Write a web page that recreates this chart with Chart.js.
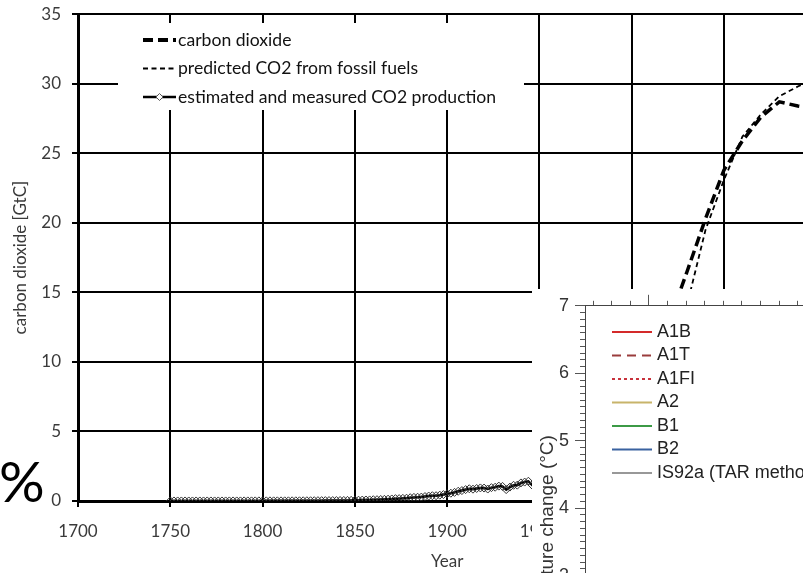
<!DOCTYPE html>
<html><head><meta charset="utf-8">
<script src="https://cdn.jsdelivr.net/npm/chart.js@4.4.1/dist/chart.umd.min.js"></script>
<style>
html,body{margin:0;padding:0;background:#fff;}
#wrap{position:relative;width:803px;height:573px;overflow:hidden;background:#fff;}
#main{position:absolute;left:0;top:-7px;}
#inset{position:absolute;left:532px;top:289px;background:#fff;}
#pct{position:absolute;left:-1px;top:452px;font-family:Lato,sans-serif;font-size:57px;line-height:1;color:#000;}
</style></head>
<body><div id="wrap">
<canvas id="main" width="850" height="580"></canvas>
<div id="pct">%</div>
<canvas id="inset" width="520" height="560"></canvas>
</div>
<script>
// ---------- main chart data ----------
const xTickValues = [1700, 1750, 1800, 1850, 1900, 1950, 2000, 2050, 2100];
const yTickValues = [0, 5, 10, 15, 20, 25, 30, 35];

const co2Years  = [2010, 2020, 2030, 2040, 2050, 2060, 2070, 2080, 2090, 2100];
const co2Values = [9.2, 12.8, 16.5, 20.3, 23.8, 25.9, 27.6, 28.7, 28.4, 28.2];

const predictedYears  = [2010, 2020, 2030, 2040, 2050, 2060, 2070, 2080, 2090, 2100];
const predictedValues = [9.0, 11.8, 14.1, 19.5, 23.1, 26.2, 27.8, 29.1, 29.8, 30.4];

const measuredYears = [
  1750,1752,1754,1756,1758,1760,1762,1764,1766,1768,1770,1772,1774,1776,1778,1780,1782,1784,1786,1788,1790,1792,1794,1796,1798,
  1800,1802,1804,1806,1808,1810,1812,1814,1816,1818,1820,1822,1824,1826,1828,1830,1832,1834,1836,1838,1840,1842,1844,1846,1848,
  1850,1852,1854,1856,1858,1860,1862,1864,1866,1868,1870,1872,1874,1876,1878,1880,1882,1884,1886,1888,1890,1892,1894,1896,1898,
  1900,1902,1904,1906,1908,1910,1912,1914,1916,1918,1920,1922,1924,1926,1928,1930,1932,1934,1936,1938,1940,1942,1944,1946,1948,1950,
  1955,1960,1965,1970,1975,1980,1985,1990,1995,2000,2005,2010
];
const measuredValues = [
  0.003,0.003,0.003,0.003,0.003,0.003,0.003,0.003,0.003,0.003,0.004,0.004,0.004,0.004,0.004,0.004,0.005,0.005,0.005,0.005,0.006,0.006,0.007,0.007,0.008,
  0.008,0.009,0.009,0.010,0.010,0.010,0.011,0.012,0.013,0.013,0.014,0.015,0.017,0.019,0.021,0.024,0.025,0.027,0.030,0.031,0.033,0.035,0.039,0.044,0.048,
  0.054,0.058,0.066,0.072,0.076,0.091,0.095,0.110,0.120,0.130,0.147,0.170,0.170,0.190,0.200,0.236,0.260,0.270,0.280,0.320,0.356,0.380,0.380,0.420,0.460,
  0.52,0.56,0.62,0.70,0.75,0.82,0.88,0.85,0.90,0.94,0.93,0.86,0.96,0.99,1.07,1.05,0.82,1.00,1.13,1.14,1.30,1.36,1.42,1.15,1.47,1.63,
  2.04,2.58,3.13,4.05,4.60,5.30,5.42,6.14,6.40,6.73,7.97,9.17
];

// ---------- inset chart data ----------
const insetYears = [2000, 2050, 2100];
const insetLabels = ['A1B', 'A1T', 'A1FI', 'A2', 'B1', 'B2', 'IS92a (TAR method)'];
const a1bValues   = [0.3, 1.6, 2.9];
const a1tValues   = [0.3, 1.7, 2.5];
const a1fiValues  = [0.3, 1.9, 4.5];
const a2Values    = [0.3, 1.5, 3.8];
const b1Values    = [0.3, 1.3, 2.0];
const b2Values    = [0.3, 1.5, 2.7];
const is92aValues = [0.3, 1.4, 2.8];
const insetYTicks = [0, 1, 2, 3, 4, 5, 6, 7];

const pts = (xs, ys) => xs.map((x, i) => ({x: x, y: ys[i]}));

function legendPlugin(id, o) {
  return {
    id: id,
    afterDatasetsDraw(chart) {
      const ctx = chart.ctx;
      ctx.save();
      if (o.box) { ctx.fillStyle = '#fff'; ctx.fillRect(o.box[0], o.box[1], o.box[2], o.box[3]); }
      chart.data.datasets.forEach((ds, i) => {
        const y = o.y0 + i * o.dy;
        ctx.save();
        ctx.strokeStyle = ds.borderColor;
        ctx.lineWidth = ds.legendWidth || ds.borderWidth;
        ctx.setLineDash(ds.borderDash || []);
        ctx.lineCap = 'butt';
        ctx.beginPath(); ctx.moveTo(o.x0, y); ctx.lineTo(o.x1, y); ctx.stroke();
        ctx.setLineDash([]);
        if (ds.pointStyle === 'rectRot') {
          const cx = (o.x0 + o.x1) / 2, r = 3.5;
          ctx.beginPath();
          ctx.moveTo(cx, y - r); ctx.lineTo(cx + r, y); ctx.lineTo(cx, y + r); ctx.lineTo(cx - r, y); ctx.closePath();
          ctx.fillStyle = '#fff'; ctx.fill();
          ctx.lineWidth = 1; ctx.strokeStyle = '#555'; ctx.stroke();
        }
        ctx.restore();
        ctx.fillStyle = o.color; ctx.font = o.font; ctx.textBaseline = 'middle'; ctx.textAlign = 'left';
        ctx.fillText(ds.label, o.tx, y);
      });
      ctx.restore();
    }
  };
}

const txt = '#3a3a3a';
const lato17 = {family: 'Lato', size: 17};

new Chart(document.getElementById('main'), {
  type: 'line',
  data: {
    datasets: [
      {label: 'carbon dioxide', data: pts(co2Years, co2Values), borderColor: '#000', borderWidth: 3.5, legendWidth: 4, borderDash: [10, 5], pointRadius: 0, tension: 0, fill: false},
      {label: 'predicted CO2 from fossil fuels', data: pts(predictedYears, predictedValues), borderColor: '#000', borderWidth: 1.8, borderDash: [5, 3.5], pointRadius: 0, tension: 0, fill: false},
      {label: 'estimated and measured CO2 production', data: pts(measuredYears, measuredValues), borderColor: '#000', borderWidth: 2.5, pointStyle: 'rectRot', pointRadius: 4, pointBorderColor: '#333', pointBackgroundColor: 'rgba(255,255,255,0)', pointBorderWidth: 1, tension: 0, fill: false}
    ]
  },
  options: {
    responsive: false, animation: false, devicePixelRatio: 1,
    layout: {padding: {top: 14, right: 24, left: 0, bottom: 0}},
    plugins: {legend: {display: false}, tooltip: {enabled: false}},
    scales: {
      x: {
        type: 'linear', min: xTickValues[0], max: xTickValues[xTickValues.length - 1],
        afterBuildTicks: s => { s.ticks = xTickValues.map(v => ({value: v})); },
        ticks: {color: txt, font: lato17, padding: 14, maxRotation: 0, autoSkip: false, callback: v => String(v)},
        grid: {color: '#000', lineWidth: 2, tickLength: 6, tickColor: '#000', tickWidth: 2},
        border: {color: '#000', width: 3},
        title: {display: true, text: 'Year', color: txt, font: lato17, padding: {top: 1, bottom: 1}},
        afterFit: s => { s.height = 72; }
      },
      y: {
        type: 'linear', min: yTickValues[0], max: yTickValues[yTickValues.length - 1],
        afterBuildTicks: s => { s.ticks = yTickValues.map(v => ({value: v})); },
        ticks: {color: txt, font: lato17, padding: 11, autoSkip: false, callback: v => String(v)},
        grid: {color: '#000', lineWidth: 2, tickLength: 6, tickColor: '#000', tickWidth: 2},
        border: {color: '#000', width: 3},
        title: {display: true, text: 'carbon dioxide [GtC]', color: txt, font: lato17, padding: {top: 10, bottom: 10}},
        afterFit: s => { s.width = 78; }
      }
    }
  },
  plugins: [legendPlugin('mainLegend', {box: [118, 30, 406, 87], x0: 143, x1: 176, tx: 178, y0: 47, dy: 28.5, font: '17.6px Lato', color: '#111'})]
});

const isInt = v => Math.abs(v - Math.round(v)) < 1e-6;
const insetFontTick = {family: 'Liberation Sans', size: 18};
const insetFontLbl = {family: 'Liberation Sans', size: 19};

new Chart(document.getElementById('inset'), {
  type: 'line',
  data: {
    datasets: [
      {label: insetLabels[0], data: pts(insetYears, a1bValues),   borderColor: '#d42a2a', borderWidth: 2},
      {label: insetLabels[1], data: pts(insetYears, a1tValues),   borderColor: '#9a3c3c', borderWidth: 2, borderDash: [9, 6]},
      {label: insetLabels[2], data: pts(insetYears, a1fiValues),  borderColor: '#c8323c', borderWidth: 2, borderDash: [3, 3]},
      {label: insetLabels[3], data: pts(insetYears, a2Values),    borderColor: '#c8b46a', borderWidth: 2},
      {label: insetLabels[4], data: pts(insetYears, b1Values),    borderColor: '#3c9a46', borderWidth: 2},
      {label: insetLabels[5], data: pts(insetYears, b2Values),    borderColor: '#3a62a0', borderWidth: 2},
      {label: insetLabels[6], data: pts(insetYears, is92aValues), borderColor: '#333', borderWidth: 1.2}
    ].map(d => Object.assign({pointRadius: 0, tension: 0, fill: false}, d))
  },
  options: {
    responsive: false, animation: false, devicePixelRatio: 1,
    layout: {padding: {top: 0, right: 31, left: 0, bottom: 0}},
    plugins: {legend: {display: false}, tooltip: {enabled: false}},
    scales: {
      x: {
        type: 'linear', position: 'bottom', min: 1982.85, max: 2100,
        afterBuildTicks: s => { s.ticks = [2000, 2050, 2100].map(v => ({value: v})); },
        ticks: {color: '#333', font: insetFontTick, callback: v => String(v), maxRotation: 0},
        grid: {drawOnChartArea: false, tickLength: 10, tickColor: '#555', tickWidth: 1},
        border: {color: '#444', width: 1},
        afterFit: s => { s.height = 71; }
      },
      xTop: {
        type: 'linear', position: 'top', min: 1982.85, max: 2100,
        afterBuildTicks: s => { const t = []; for (let v = 1985; v <= 2100; v += 5) t.push({value: v}); s.ticks = t; },
        ticks: {display: false, autoSkip: false},
        grid: {drawOnChartArea: false, tickLength: 11, tickColor: '#555', tickWidth: 1,
               tickBorderDash: c => (c.tick && c.tick.value % 50 === 0) ? [] : [0, 6, 5, 100]},
        border: {color: '#444', width: 1},
        afterFit: s => { s.height = 11; }
      },
      y: {
        type: 'linear', min: insetYTicks[0], max: insetYTicks[insetYTicks.length - 1],
        afterBuildTicks: s => { const t = []; for (let k = 0; k <= 70; k++) t.push({value: k / 10}); s.ticks = t; },
        ticks: {color: '#333', font: insetFontTick, padding: 6, autoSkip: false, callback: v => isInt(v) ? String(Math.round(v)) : ''},
        grid: {drawOnChartArea: false, tickLength: 10, tickColor: '#555', tickWidth: 1,
               tickBorderDash: c => (c.tick && isInt(c.tick.value)) ? [] : [0, 5, 5, 100]},
        border: {color: '#444', width: 1},
        title: {display: true, text: 'Temperature change (°C)', color: '#333', font: insetFontLbl, padding: {top: 4.6, bottom: 4.6}},
        afterFit: s => { s.width = 53; }
      }
    }
  },
  plugins: [legendPlugin('insetLegend', {x0: 80, x1: 120, tx: 125, y0: 43, dy: 23.5, font: '18px "Liberation Sans"', color: '#222'})]
});
</script>
</body></html>
